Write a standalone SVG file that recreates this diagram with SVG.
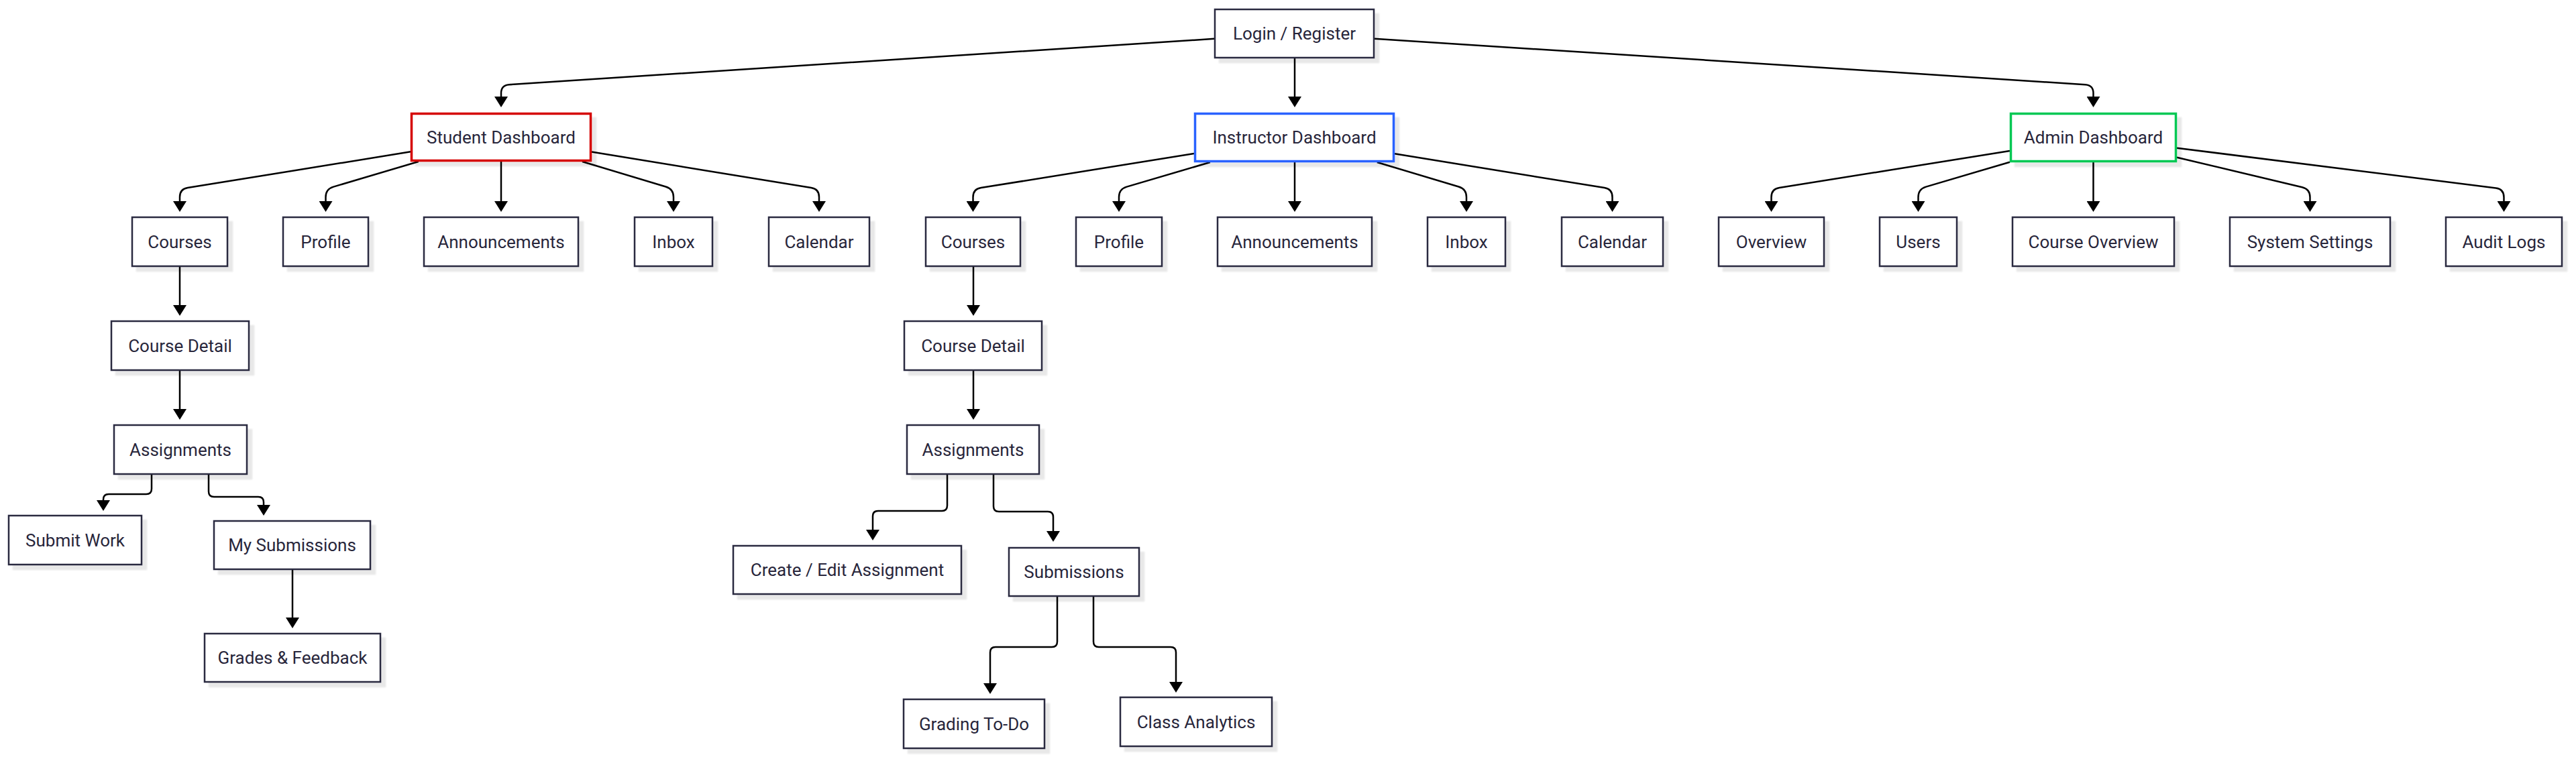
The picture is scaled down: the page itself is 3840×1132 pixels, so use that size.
<svg xmlns="http://www.w3.org/2000/svg" width="3840" height="1132" viewBox="0 0 3840 1132">
<style>
  .bg { fill: #ffffff; }
  .node rect { fill: #ffffff; stroke: #2b2a40; stroke-width: 2.5; filter: url(#sh); }
  .node.red rect { stroke: #d50000; stroke-width: 3.5; }
  .node.blue rect { stroke: #2962ff; stroke-width: 3.5; }
  .node.green rect { stroke: #00c853; stroke-width: 3.5; }
  .node text { font-family: Roboto, "Noto Sans", "Liberation Sans", sans-serif; font-size: 26px; fill: #28263b; text-anchor: middle; }
  .edges path { fill: none; stroke: #000000; stroke-width: 2.5; marker-end: url(#arr); }
</style>
<defs>
  <filter id="sh" x="-10%" y="-10%" width="130%" height="140%">
    <feDropShadow dx="7" dy="7" stdDeviation="1.2" flood-color="#000000" flood-opacity="0.09"/>
  </filter>
  <marker id="arr" markerUnits="userSpaceOnUse" markerWidth="16" markerHeight="20" viewBox="0 0 16 20" refX="0" refY="10" orient="auto">
    <path d="M0,0 L16,10 L0,20 Z" fill="#000000"/>
  </marker>
</defs>
<rect class="bg" x="0" y="0" width="3840" height="1132"/>

<g class="edges">
  <path d="M1810,57.8 L759,126.2 Q747,127 747,139 L747,144"/>
  <path d="M1930,87 L1930,144"/>
  <path d="M2049,57.7 L3108.5,126.2 Q3120.5,127 3120.5,139 L3120.5,144"/>

  <path d="M612,226.3 L279.8,280.1 Q268,282 268,294 L268,300"/>
  <path d="M623.8,241 L497,278.6 Q485.5,282 485.5,294 L485.5,300"/>
  <path d="M747,241 L747,300"/>
  <path d="M868,241 L992.5,278.5 Q1004,282 1004,294 L1004,300"/>
  <path d="M882,226.6 L1209.2,280.1 Q1221,282 1221,294 L1221,300"/>

  <path d="M1780,229 L1462.4,280.1 Q1450.5,282 1450.5,294 L1450.5,300"/>
  <path d="M1803.9,242 L1679.5,278.6 Q1668,282 1668,294 L1668,300"/>
  <path d="M1930,242 L1930,300"/>
  <path d="M2052.8,242 L2174.5,278.5 Q2186,282 2186,294 L2186,300"/>
  <path d="M2079,229.3 L2391.7,280.1 Q2403.5,282 2403.5,294 L2403.5,300"/>

  <path d="M2996,225 L2652.4,280.1 Q2640.5,282 2640.5,294 L2640.5,300"/>
  <path d="M2996,241.7 L2871,278.6 Q2859.5,282 2859.5,294 L2859.5,300"/>
  <path d="M3120.5,242 L3120.5,300"/>
  <path d="M3245,234.7 L3431.8,279.2 Q3443.5,282 3443.5,294 L3443.5,300"/>
  <path d="M3245,220.7 L3720.6,280.5 Q3732.5,282 3732.5,294 L3732.5,300"/>

  <path d="M268,398 L268,455"/>
  <path d="M268,553 L268,610"/>
  <path d="M226,708 L226,729 Q226,737 218,737 L162,737 Q154,737 154,745 L154,746"/>
  <path d="M311,708 L311,733 Q311,741 319,741 L385,741 Q393,741 393,749 L393,753"/>
  <path d="M436,850 L436,921"/>

  <path d="M1451,398 L1451,455"/>
  <path d="M1451,553 L1451,610"/>
  <path d="M1412,708 L1412,754 Q1412,762 1404,762 L1309,762 Q1301,762 1301,770 L1301,790"/>
  <path d="M1481,708 L1481,755 Q1481,763 1489,763 L1562,763 Q1570,763 1570,771 L1570,792"/>
  <path d="M1576,890 L1576,957 Q1576,965 1568,965 L1484,965 Q1476,965 1476,973 L1476,1019"/>
  <path d="M1630,890 L1630,957 Q1630,965 1638,965 L1745,965 Q1753,965 1753,973 L1753,1017"/>
</g>

<g id="login" class="node"><rect x="1811" y="14" width="237" height="72"/><text x="1929.5" y="59">Login / Register</text></g>
<g id="student-dashboard" class="node red"><rect x="613.5" y="169.5" width="267" height="70"/><text x="747" y="214">Student Dashboard</text></g>
<g id="instructor-dashboard" class="node blue"><rect x="1781.5" y="169.5" width="296" height="71"/><text x="1929.5" y="214">Instructor Dashboard</text></g>
<g id="admin-dashboard" class="node green"><rect x="2997.5" y="169.5" width="246" height="71"/><text x="3120.5" y="214">Admin Dashboard</text></g>

<g id="s-courses" class="node"><rect x="197" y="324" width="142" height="73"/><text x="268" y="369.5">Courses</text></g>
<g id="s-profile" class="node"><rect x="422" y="324" width="127" height="73"/><text x="485.5" y="369.5">Profile</text></g>
<g id="s-announcements" class="node"><rect x="632" y="324" width="230" height="73"/><text x="747" y="369.5">Announcements</text></g>
<g id="s-inbox" class="node"><rect x="946" y="324" width="116" height="73"/><text x="1004" y="369.5">Inbox</text></g>
<g id="s-calendar" class="node"><rect x="1146" y="324" width="150" height="73"/><text x="1221" y="369.5">Calendar</text></g>

<g id="i-courses" class="node"><rect x="1380" y="324" width="141" height="73"/><text x="1450.5" y="369.5">Courses</text></g>
<g id="i-profile" class="node"><rect x="1604" y="324" width="128" height="73"/><text x="1668" y="369.5">Profile</text></g>
<g id="i-announcements" class="node"><rect x="1815" y="324" width="230" height="73"/><text x="1930" y="369.5">Announcements</text></g>
<g id="i-inbox" class="node"><rect x="2128" y="324" width="116" height="73"/><text x="2186" y="369.5">Inbox</text></g>
<g id="i-calendar" class="node"><rect x="2328" y="324" width="151" height="73"/><text x="2403.5" y="369.5">Calendar</text></g>

<g id="a-overview" class="node"><rect x="2562" y="324" width="157" height="73"/><text x="2640.5" y="369.5">Overview</text></g>
<g id="a-users" class="node"><rect x="2802" y="324" width="115" height="73"/><text x="2859.5" y="369.5">Users</text></g>
<g id="a-course-overview" class="node"><rect x="3000" y="324" width="241" height="73"/><text x="3120.5" y="369.5">Course Overview</text></g>
<g id="a-system-settings" class="node"><rect x="3324" y="324" width="239" height="73"/><text x="3443.5" y="369.5">System Settings</text></g>
<g id="a-audit-logs" class="node"><rect x="3646" y="324" width="173" height="73"/><text x="3732.5" y="369.5">Audit Logs</text></g>

<g id="s-course-detail" class="node"><rect x="166" y="479" width="205" height="73"/><text x="268.5" y="524.5">Course Detail</text></g>
<g id="i-course-detail" class="node"><rect x="1348" y="479" width="205" height="73"/><text x="1450.5" y="524.5">Course Detail</text></g>

<g id="s-assignments" class="node"><rect x="170" y="634" width="198" height="73"/><text x="269" y="679.5">Assignments</text></g>
<g id="i-assignments" class="node"><rect x="1352" y="634" width="197" height="73"/><text x="1450.5" y="679.5">Assignments</text></g>

<g id="s-submit-work" class="node"><rect x="13" y="769" width="198" height="73"/><text x="112" y="814.5">Submit Work</text></g>
<g id="s-my-submissions" class="node"><rect x="319" y="777" width="233" height="72"/><text x="435.5" y="822">My Submissions</text></g>
<g id="s-grades-feedback" class="node"><rect x="305" y="945" width="262" height="72"/><text x="436" y="990">Grades &amp; Feedback</text></g>

<g id="i-create-edit" class="node"><rect x="1093" y="814" width="340" height="72"/><text x="1263" y="859">Create / Edit Assignment</text></g>
<g id="i-submissions" class="node"><rect x="1504" y="817" width="194" height="72"/><text x="1601" y="862">Submissions</text></g>
<g id="i-grading-todo" class="node"><rect x="1347" y="1043" width="210" height="73"/><text x="1452" y="1088.5">Grading To-Do</text></g>
<g id="i-class-analytics" class="node"><rect x="1670" y="1040" width="226" height="73"/><text x="1783" y="1085.5">Class Analytics</text></g>
</svg>
